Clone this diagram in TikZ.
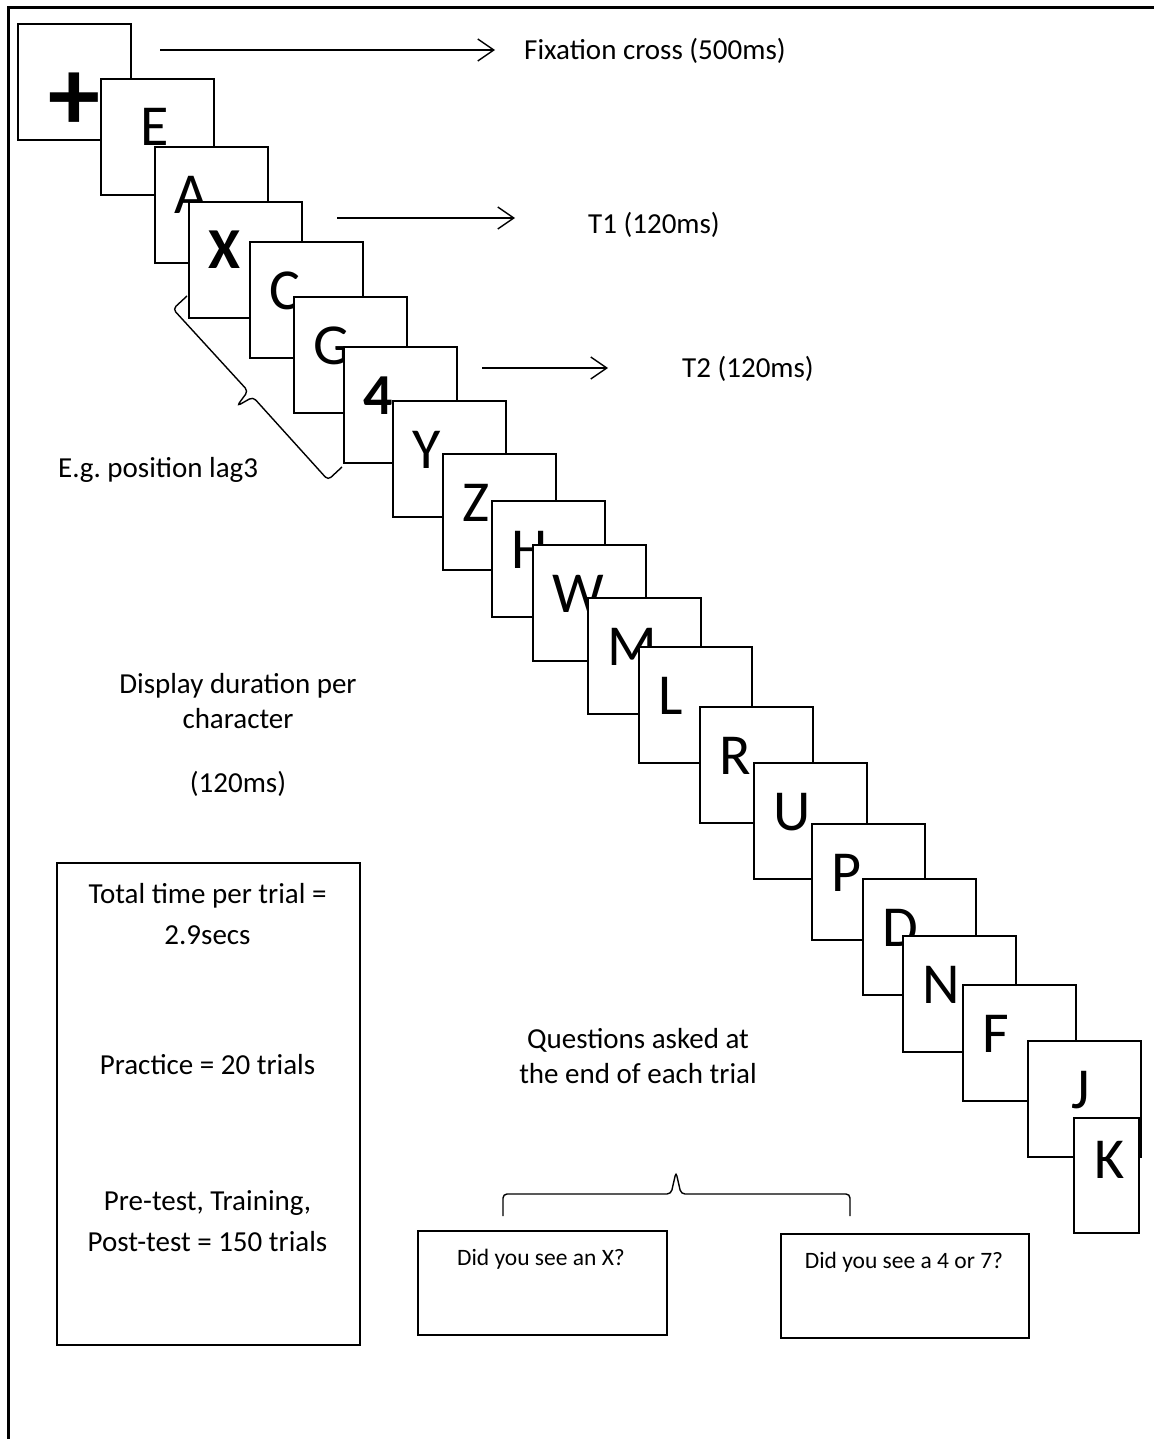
\documentclass[tikz,border=0pt]{standalone}
\usepackage{fontspec}
\setmainfont{Carlito}
\frenchspacing
\usetikzlibrary{arrows.meta,positioning,calc}

\begin{document}
\begin{tikzpicture}[
 x=1pt,y=-1pt,
 card/.style={draw,fill=white,line width=2.4pt,minimum width=113pt,minimum height=116pt,inner sep=0pt,anchor=north west},
 chr/.style={font=\fontsize{58}{58}\selectfont,inner sep=0pt,anchor=base west},
 txt/.style={font=\fontsize{29}{43}\selectfont,inner sep=0pt,align=center},
 qtxt/.style={font=\fontsize{23.5}{28}\selectfont,inner sep=0pt,anchor=base},
 qbox/.style={draw,line width=2pt,minimum width=249pt,minimum height=104pt,inner sep=0pt,anchor=north west},
 arr/.style={-{Straight Barb[length=16pt,width=22pt]},line width=1.4pt},
 brc/.style={line width=1.4pt,rounded corners=4pt}
]
\useasboundingbox (0,0) rectangle (1154,1439);
% page frame
\draw[line width=3pt] (8,1439) -- (8,8) -- (1154,8);

% fixation card
\node[card] (cP) at (17,23) {};
\node[font=\fontsize{104}{104}\selectfont\bfseries,inner sep=0pt] (lP) at (74,102) {+};

% RSVP stream
\foreach \nm/\ch/\px/\py/\dx in {E/E/100/78/40,A/A/154/146/20,X/{\bfseries X}/188/201/20,
  C/C/249/241/20,G/G/293/296/20,4/{\bfseries 4}/343/346/20,Y/Y/392/400/20,Z/Z/442/453/20,
  H/H/491/500/20,W/W/532/544/20,M/M/587/597/20,L/L/638/646/20,R/R/699/706/20,
  U/U/753/762/20,P/P/811/823/20,D/D/862/878/20,N/N/902/935/20,F/F/962/984/20,J/J/1027/1040/44}{
  \node[card] (c\nm) at (\px,\py) {};
  \node[chr] (l\nm) at ([shift={(\dx,68)}]c\nm.north west) {\ch};
}
\node[card,minimum width=65pt,minimum height=115pt] (cK) at (1073,1117) {};
\node[chr] (lK) at ([shift={(21,61)}]cK.north west) {K};

% labels and arrows
\node[txt,anchor=base west] (fixlbl) at (524,60) {Fixation cross (500ms)};
\node[txt,anchor=base west] (t1lbl) at (588,234) {T1 (120ms)};
\node[txt,anchor=base west] (t2lbl) at (682,377) {T2 (120ms)};
\coordinate (fixS) at (160,50);
\coordinate (t1S) at (337,218);
\coordinate (t2S) at (482,368);
\draw[arr,shorten >=29pt] (fixS) -- (fixS -| fixlbl.west);
\draw[arr,shorten >=73pt] (t1S) -- (t1S -| t1lbl.west);
\draw[arr,shorten >=74pt] (t2S) -- (t2S -| t2lbl.west);

% lag brace
\draw[brc] (187,296) -- (173,309) -- (248,391) -- (237,406) -- (253,397) -- (328,480) -- (342,467);
\node[txt,anchor=base west] (laglbl) at (58,477) {E.g. position lag3};

\node[txt,font=\fontsize{29}{35}\selectfont] (durlbl) at (238,735) {Display duration per\\character\\[29pt](120ms)};

% summary box
\node[draw,line width=2pt,minimum width=303pt,minimum height=482pt,inner sep=0pt,anchor=north west] (info) at (56,862) {};
\node[txt,font=\fontsize{29}{41}\selectfont,anchor=north] (infotxt) at (207.5,883) {Total time per trial =\\2.9secs\\[89pt]Practice = 20 trials\\[95pt]Pre-test, Training,\\Post-test = 150 trials};

% questions
\node[txt,font=\fontsize{29}{35}\selectfont] (qlbl) at (638,1056) {Questions asked at\\the end of each trial};
\draw[brc] (503,1216) -- (503,1194) -- (671,1194) -- (676,1172) -- (681,1194) -- (850,1194) -- (850,1216);
\node[qbox] (qX) at (417,1230) {};
\node[qbox,minimum width=248pt] (q47) at (780,1233) {};
\node[qtxt] (qXt) at (541,1265) {Did you see an X?};
\node[qtxt] (q47t) at (904,1268) {Did you see a 4 or 7?};
\end{tikzpicture}
\end{document}
